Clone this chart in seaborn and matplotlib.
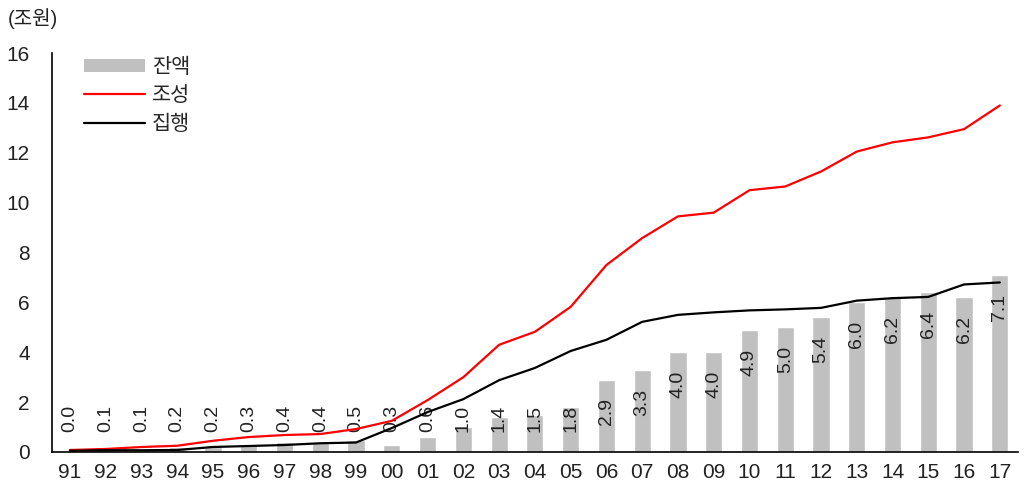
import numpy as np
import pandas as pd
import seaborn as sns
import matplotlib
matplotlib.use("Agg")
import matplotlib.pyplot as plt
from matplotlib.patches import Patch
from matplotlib.lines import Line2D
from matplotlib.ticker import MultipleLocator, FixedLocator, NullFormatter

# Fund figures by year (조원)
years = ['91', '92', '93', '94', '95', '96', '97', '98', '99', '00', '01', '02', '03', '04',
         '05', '06', '07', '08', '09', '10', '11', '12', '13', '14', '15', '16', '17']
balance = [0.0, 0.1, 0.1, 0.2, 0.2, 0.3, 0.4, 0.4, 0.5, 0.3, 0.6, 1.0, 1.4, 1.5,
           1.8, 2.9, 3.3, 4.0, 4.0, 4.9, 5.0, 5.4, 6.0, 6.2, 6.4, 6.2, 7.1]
raised = [0.08, 0.12, 0.2, 0.25, 0.45, 0.6, 0.68, 0.72, 0.92, 1.25, 2.08, 3.0, 4.3, 4.82,
          5.82, 7.5, 8.58, 9.45, 9.6, 10.5, 10.65, 11.25, 12.05, 12.42, 12.62, 12.95, 13.9]
spent = [0.05, 0.07, 0.07, 0.08, 0.2, 0.24, 0.28, 0.35, 0.38, 0.96, 1.6, 2.12, 2.88, 3.37,
         4.05, 4.5, 5.22, 5.5, 5.6, 5.68, 5.72, 5.78, 6.07, 6.17, 6.22, 6.72, 6.8]
legend_labels = ['잔액', '조성', '집행']
unit_label = '(조원)'

sns.set_style("white")
plt.rcParams['font.family'] = ['Liberation Sans', 'Noto Sans CJK KR', 'DejaVu Sans']

df = pd.DataFrame({'year': years, 'balance': balance, 'raised': raised, 'spent': spent})
df['pos'] = np.arange(len(df))

fig = plt.figure(figsize=(10.28, 4.87), dpi=100)
ax = fig.add_axes([0.0506, 0.0719, 0.9394, 0.8191])

bar_color = '#c0c0c0'
sns.barplot(data=df, x='year', y='balance', color=bar_color, width=0.48,
            saturation=1, ax=ax, zorder=1)
sns.lineplot(data=df, x='pos', y='raised', color='#ff0000', linewidth=1.6, ax=ax, zorder=3)
sns.lineplot(data=df, x='pos', y='spent', color='#000000', linewidth=1.6, ax=ax, zorder=3)

# value labels, rotated, placed just inside the top of each bar
for i, v in enumerate(balance):
    y = max(v - 0.75, 1.9)
    ax.text(i, y, f'{v:.1f}', rotation=90, ha='center', va='top',
            fontsize=14, color='#222222', zorder=2)

ax.set_xlim(-0.5, len(years) - 0.5)
ax.set_ylim(0, 16)
ax.yaxis.set_major_locator(MultipleLocator(2))
ax.set_xlabel('')
ax.set_ylabel('')

for s in ['top', 'right']:
    ax.spines[s].set_visible(False)
for s in ['left', 'bottom']:
    ax.spines[s].set_color('#000000')
    ax.spines[s].set_linewidth(1.2)

ax.tick_params(axis='y', direction='out', length=5, width=1.2, labelsize=15,
               labelcolor='#222222', pad=11)
ax.tick_params(axis='x', which='major', length=0, labelsize=15, labelcolor='#222222', pad=8)
ax.xaxis.set_minor_locator(FixedLocator(np.arange(-0.5, len(years), 1.0)))
ax.xaxis.set_minor_formatter(NullFormatter())
ax.tick_params(axis='x', which='minor', direction='out', length=6, width=1.2)

fig.text(0.008, 0.962, unit_label, fontsize=14.5, color='#222222', ha='left', va='center')

handles = [Patch(facecolor=bar_color, edgecolor='none'),
           Line2D([0], [0], color='#ff0000', linewidth=1.6),
           Line2D([0], [0], color='#000000', linewidth=1.6)]
ax.legend(handles, legend_labels, loc='upper left', bbox_to_anchor=(0.025, 1.01),
          frameon=False, fontsize=15, handlelength=2.9, handleheight=0.55,
          handletextpad=0.35, labelspacing=0.45, borderaxespad=0)

fig.savefig('out.png', dpi=100)
